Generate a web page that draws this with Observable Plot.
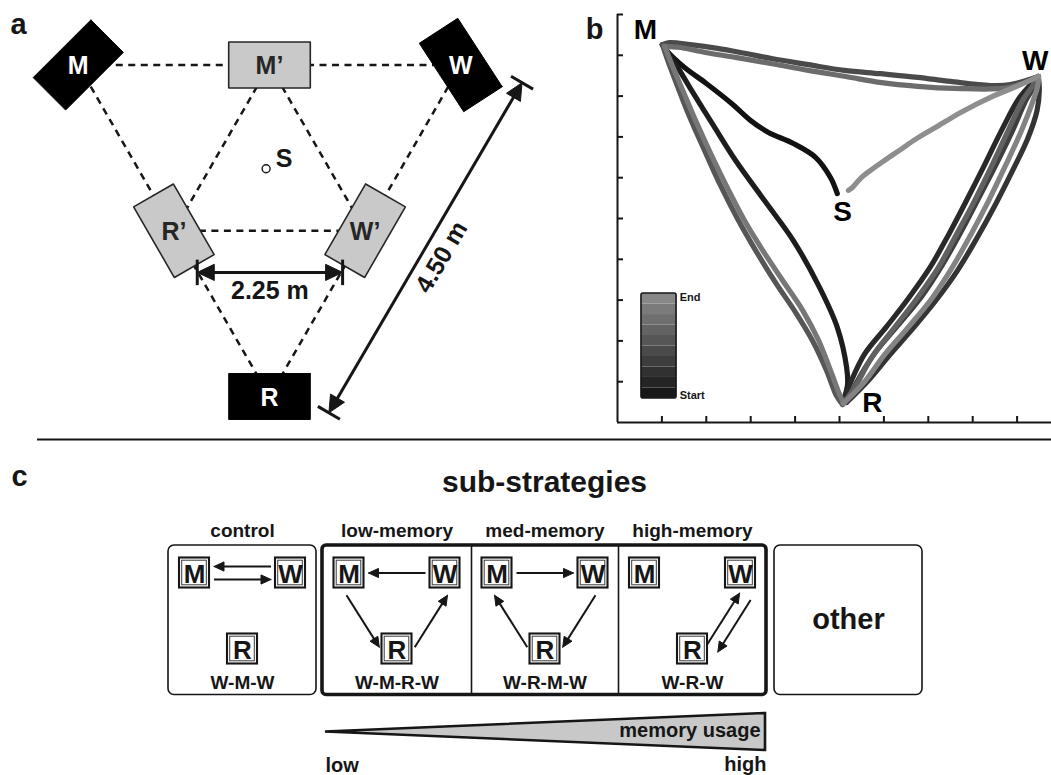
<!DOCTYPE html>
<html>
<head>
<meta charset="utf-8">
<script src="https://cdn.jsdelivr.net/npm/d3@7"></script>
<script src="https://cdn.jsdelivr.net/npm/@observablehq/plot@0.6"></script>
<style>
  html, body { margin: 0; padding: 0; background: #fff; }
  #figure { position: relative; width: 1051px; height: 775px; overflow: hidden; background: #fff; }
  #figure svg { position: absolute; max-width: none; background: transparent; }
</style>
</head>
<body>
<div id="figure"></div>
<script>
const FONT = "Liberation Sans, Arial, Helvetica, sans-serif";
const INK = "#161616";

// ================= panel a: arena layout (metres, origin at arena centre, y up) =================
const stationNames = ["M", "W", "R", "M’", "R’", "W’"];
const stationX = [-2.25, 2.25, 0, 0, -1.125, 1.125];
const stationY = [1.30, 1.30, -2.60, 1.30, -0.65, -0.65];
const stationIsFeeder = [true, true, true, false, false, false];
const arenaLinks = [["M", "M’"], ["M’", "W"], ["M", "R’"], ["M’", "R’"], ["M’", "W’"],
                    ["W", "W’"], ["R’", "W’"], ["R’", "R"], ["W’", "R"]];
const startLabel = "S";
const startXY = [-0.04, 0.08];
const dimensionLabels = ["2.25 m", "4.50 m"];
const dimensionFrom = [[-0.85, -1.14], [0.699, -2.792]];
const dimensionTo = [[0.86, -1.14], [2.971, 1.092]];

// ================= panel b: trajectory of one session (grid units) =================
const legSM1 = [[4.95,5.61],[4.80,6.00],[4.46,6.50],[3.96,6.84],[3.40,7.11],[3.00,7.40],[2.57,7.82],[2.00,8.31],[1.51,8.70],[1.10,9.12],[1.01,9.26]];
const legMR1 = [[1.01,9.26],[1.33,8.75],[1.64,8.19],[2.16,7.28],[2.66,6.42],[3.31,5.44],[3.96,4.46],[4.55,3.31],[4.95,2.33],[5.16,1.35],[5.18,0.91],[5.07,0.49]];
const legRW1 = [[5.07,0.49],[5.25,0.98],[5.56,1.67],[6.06,2.35],[6.55,3.04],[7.05,3.82],[7.46,4.61],[7.86,5.44],[8.27,6.32],[8.65,7.16],[9.04,7.94],[9.35,8.33],[9.48,8.48]];
const legWR1 = [[9.48,8.48],[9.50,8.14],[9.45,7.65],[9.24,6.96],[8.90,6.18],[8.50,5.32],[8.09,4.51],[7.66,3.73],[7.17,2.99],[6.65,2.30],[6.12,1.64],[5.65,1.03],[5.16,0.49]];
const legRW2 = [[5.16,0.49],[5.41,1.03],[5.81,1.72],[6.33,2.40],[6.85,3.09],[7.32,3.87],[7.73,4.66],[8.13,5.49],[8.54,6.35],[8.90,7.16],[9.21,7.92],[9.41,8.28],[9.48,8.48]];
const legWM1 = [[9.48,8.48],[8.85,8.28],[8.40,8.26],[7.50,8.36],[6.76,8.46],[5.92,8.55],[5.11,8.63],[4.30,8.77],[3.47,8.92],[2.77,9.07],[2.25,9.17],[1.64,9.26],[1.17,9.31],[1.01,9.26]];
const legMR2 = [[1.01,9.26],[1.15,8.82],[1.37,8.19],[1.64,7.45],[1.98,6.62],[2.32,5.81],[2.70,5.00],[3.11,4.22],[3.56,3.43],[4.01,2.70],[4.39,2.01],[4.71,1.27],[4.93,0.66],[5.07,0.44]];
const legRW3 = [[5.07,0.44],[5.38,0.93],[5.74,1.62],[6.22,2.30],[6.71,2.99],[7.21,3.77],[7.61,4.56],[8.02,5.39],[8.42,6.27],[8.78,7.11],[9.12,7.89],[9.37,8.28],[9.48,8.48]];
const legWM2 = [[9.48,8.48],[8.81,8.21],[7.59,8.19],[6.76,8.24],[5.95,8.33],[5.14,8.48],[4.30,8.63],[3.45,8.80],[2.66,8.95],[1.98,9.07],[1.42,9.19],[1.06,9.22]];
const legMR3 = [[1.06,9.22],[1.24,8.73],[1.49,8.09],[1.78,7.35],[2.12,6.54],[2.48,5.74],[2.86,4.95],[3.27,4.22],[3.72,3.48],[4.17,2.75],[4.53,2.01],[4.80,1.27],[5.00,0.69],[5.09,0.47]];
const legRW4 = [[5.09,0.47],[5.55,0.98],[6.02,1.67],[6.56,2.35],[7.08,3.04],[7.55,3.82],[7.96,4.61],[8.36,5.44],[8.74,6.30],[9.08,7.11],[9.36,7.89],[9.47,8.28],[9.48,8.48]];
const legWS1 = [[9.48,8.48],[9.08,8.28],[8.40,7.97],[7.73,7.60],[7.16,7.23],[6.71,6.94],[6.35,6.67],[6.01,6.42],[5.70,6.18],[5.47,5.98],[5.29,5.76],[5.20,5.69]];
const trajectoryLegs = [legSM1, legMR1, legRW1, legWR1, legRW2, legWM1, legMR2, legRW3, legWM2, legMR3, legRW4, legWS1];
const landmarkNames = ["M", "W", "S", "R"];
const landmarkX = [0.63, 9.41, 5.07, 5.74];
const landmarkY = [9.61, 8.87, 5.17, 0.47];
const xTicks = [1, 2, 3, 4, 5, 6, 7, 8, 9];
const yTicks = [1, 2, 3, 4, 5, 6, 7, 8, 9, 10];
const colourbarLabels = ["Start", "End"];

// ================= panel c: sub-strategies =================
const panelTitle = "sub-strategies";
const strategyNames = ["control", "low-memory", "med-memory", "high-memory"];
const strategyRoutes = ["W-M-W", "W-M-R-W", "W-R-M-W", "W-R-W"];
const otherName = "other";
const usageTitle = "memory usage";
const usageEnds = ["low", "high"];
const usageLevels = [0, 1];

// ---------------------------------------------------------------------------
const fig = document.getElementById("figure");
function place(svg, left, top) {
  svg.style.left = left + "px";
  svg.style.top = top + "px";
  fig.appendChild(svg);
}
// filled triangle pointing along (ux, uy) with its tip at (tx, ty)
function arrowHead(id, tx, ty, ux, uy, len, half) {
  const bx = tx - ux * len, by = ty - uy * len;
  return [
    {id, x: tx, y: ty},
    {id, x: bx - uy * half, y: by + ux * half},
    {id, x: bx + uy * half, y: by - ux * half},
    {id, x: tx, y: ty}
  ];
}

// ---------------- panel a ----------------
{
  const W = 560, H = 430, k = 85, ox = 269, oy = 175;       // 85 px per metre
  const boxAngle = {"M": 45, "W": -57, "R": 0, "M’": 0, "R’": -60, "W’": 60};
  const boxLen = 0.96, boxWid = 0.54;

  const stations = stationNames.map((name, i) => ({name, x: stationX[i], y: stationY[i], feeder: stationIsFeeder[i]}));
  const byName = Object.fromEntries(stations.map(d => [d.name, d]));
  const outline = s => {
    const a = boxAngle[s.name] * Math.PI / 180, ux = Math.cos(a), uy = Math.sin(a);
    return [[1, 1], [-1, 1], [-1, -1], [1, -1], [1, 1]].map(([i, j]) => ({
      name: s.name, feeder: s.feeder,
      x: s.x + i * boxLen / 2 * ux - j * boxWid / 2 * uy,
      y: s.y + i * boxLen / 2 * uy + j * boxWid / 2 * ux
    }));
  };
  const boxes = stations.flatMap(outline);
  const links = arenaLinks.map(([a, b]) => ({x1: byName[a].x, y1: byName[a].y, x2: byName[b].x, y2: byName[b].y}));

  const headLen = 0.2, headHalf = 0.095, barHalf = 0.15, labelGap = 0.22;
  const dims = dimensionLabels.map((label, i) => {
    const [x1, y1] = dimensionFrom[i], [x2, y2] = dimensionTo[i];
    const L = Math.hypot(x2 - x1, y2 - y1), ux = (x2 - x1) / L, uy = (y2 - y1) / L;
    return {label, x1, y1, x2, y2, ux, uy,
      lx: (x1 + x2) / 2 + uy * labelGap, ly: (y1 + y2) / 2 - ux * labelGap,
      rotate: -Math.atan2(uy, ux) * 180 / Math.PI};
  });
  const shafts = dims.map(d => ({x1: d.x1 + d.ux * headLen * 0.6, y1: d.y1 + d.uy * headLen * 0.6,
                                 x2: d.x2 - d.ux * headLen * 0.6, y2: d.y2 - d.uy * headLen * 0.6}));
  const heads = dims.flatMap((d, i) => [
    ...arrowHead(2 * i, d.x2, d.y2, d.ux, d.uy, headLen, headHalf),
    ...arrowHead(2 * i + 1, d.x1, d.y1, -d.ux, -d.uy, headLen, headHalf)]);
  const bars = dims.flatMap(d => [[d.x1, d.y1], [d.x2, d.y2]].map(([x, y]) => ({
    x1: x - d.uy * barHalf, y1: y + d.ux * barHalf, x2: x + d.uy * barHalf, y2: y - d.ux * barHalf})));
  const start = {label: startLabel, x: startXY[0], y: startXY[1]};

  const svg = Plot.plot({
    width: W, height: H, margin: 0,
    x: {domain: [-ox / k, (W - ox) / k], axis: null},
    y: {domain: [(oy - H) / k, oy / k], axis: null},
    style: {fontFamily: FONT, background: "transparent"},
    marks: [
      Plot.link(links, {x1: "x1", y1: "y1", x2: "x2", y2: "y2", stroke: INK, strokeWidth: 2.5, strokeDasharray: "7,5.5"}),
      Plot.line(boxes.filter(d => d.feeder), {x: "x", y: "y", z: "name", fill: "#000", stroke: "#000", strokeWidth: 1, strokeLinejoin: "miter", curve: "linear"}),
      Plot.line(boxes.filter(d => !d.feeder), {x: "x", y: "y", z: "name", fill: "#c9c9c9", stroke: "#262626", strokeWidth: 1.6, strokeLinejoin: "miter", curve: "linear"}),
      Plot.text(stations.filter(d => d.feeder), {x: "x", y: "y", text: "name", fill: "#fff", fontSize: 25, fontWeight: "bold", dy: 1}),
      Plot.text(stations.filter(d => !d.feeder), {x: "x", y: "y", text: "name", fill: "#262626", fontSize: 25, fontWeight: "bold", dy: 1}),
      Plot.dot([start], {x: "x", y: "y", r: 4, fill: "#fff", stroke: INK, strokeWidth: 1.4}),
      Plot.text([start], {x: "x", y: "y", text: "label", dx: 18, dy: -10, fontSize: 25, fontWeight: "bold", fill: INK}),
      Plot.link(shafts, {x1: "x1", y1: "y1", x2: "x2", y2: "y2", stroke: INK, strokeWidth: 3}),
      Plot.link(bars, {x1: "x1", y1: "y1", x2: "x2", y2: "y2", stroke: INK, strokeWidth: 3}),
      Plot.line(heads, {x: "x", y: "y", z: "id", fill: INK, stroke: INK, strokeWidth: 1, curve: "linear", strokeLinejoin: "miter"}),
      Plot.text(dims, {x: "lx", y: "ly", text: "label", rotate: "rotate", fontSize: 25, fontWeight: "bold", fill: INK}),
      Plot.text(["a"], {frameAnchor: "top-left", text: d => d, dx: 18, dy: 24, textAnchor: "middle", lineAnchor: "middle", fontSize: 29, fontWeight: "bold", fill: INK})
    ]
  });
  place(svg, 0, 0);
}

// ---------------- panel b ----------------
{
  const n = trajectoryLegs.length;
  const track = trajectoryLegs.flatMap((leg, i) => leg.map(([x, y]) => ({leg: i, t: i / (n - 1), x, y})));
  const landmarks = landmarkNames.map((name, i) => ({name, x: landmarkX[i], y: landmarkY[i]}));
  const bar = {x1: 0.54, x2: 1.33, y1: 0.59, y2: 3.16};
  const steps = 10;
  const bands = d3.range(steps).map(i => ({
    x1: bar.x1, x2: bar.x2,
    y1: bar.y1 + (bar.y2 - bar.y1) * i / steps,
    y2: bar.y1 + (bar.y2 - bar.y1) * (i + 1) / steps,
    t: (i + 0.5) / steps}));
  const barText = [
    {label: colourbarLabels[0], x: bar.x2 + 0.07, y: bar.y1 + 0.07},
    {label: colourbarLabels[1], x: bar.x2 + 0.07, y: bar.y2 - 0.1}];

  const svg = Plot.plot({
    width: 491, height: 430, marginLeft: 57, marginRight: 0, marginTop: 14, marginBottom: 8,
    x: {domain: [0, 434 / 44.4]},
    y: {domain: [0, 10]},
    color: {type: "linear", domain: [0, 1], range: ["#121212", "#8e8e8e"]},
    style: {fontFamily: FONT, background: "transparent"},
    marks: [
      Plot.axisX(xTicks, {anchor: "bottom", tickSize: -6, tickFormat: () => "", label: null, strokeWidth: 2, stroke: INK}),
      Plot.axisY(yTicks, {anchor: "left", tickSize: -6, tickFormat: () => "", label: null, strokeWidth: 2, stroke: INK}),
      Plot.ruleX([0], {stroke: INK, strokeWidth: 2}),
      Plot.ruleY([0], {stroke: INK, strokeWidth: 2}),
      Plot.line(track, {x: "x", y: "y", z: "leg", stroke: "t", strokeWidth: 5.2, curve: "catmull-rom", strokeLinecap: "round", strokeLinejoin: "round"}),
      Plot.rect(bands, {x1: "x1", x2: "x2", y1: "y1", y2: "y2", fill: "t"}),
      Plot.rect([bar], {x1: "x1", x2: "x2", y1: "y1", y2: "y2", fill: "none", stroke: INK, strokeWidth: 1.6, rx: 2}),
      Plot.text(barText, {x: "x", y: "y", text: "label", textAnchor: "start", fontSize: 11, fontWeight: "bold", fill: INK}),
      Plot.text(landmarks, {x: "x", y: "y", text: "name", fontSize: 28, fontWeight: "bold", fill: "#000"}),
      Plot.text(["b"], {frameAnchor: "top-left", text: d => d, dx: -23, dy: 15, textAnchor: "middle", lineAnchor: "middle", fontSize: 29, fontWeight: "bold", fill: INK})
    ]
  });
  place(svg, 560, 0);
}

// ---------------- panel c ----------------
{
  const W = 1051, H = 350;
  const colEdges = [[168, 316], [322, 471], [471, 618], [618, 766]];
  const otherEdges = [774, 922];
  const boxTop = 120, boxBottom = 269.5;
  const rowTop = 147.5, rowBottom = 223.5, spread = 48, half = 15;
  const nodeOffset = {M: [-spread, rowTop], W: [spread, rowTop], R: [0, rowBottom]};

  const cols = strategyNames.map((name, i) => ({
    name, route: strategyRoutes[i], x1: colEdges[i][0], x2: colEdges[i][1],
    cx: (colEdges[i][0] + colEdges[i][1]) / 2}));
  const nodes = cols.flatMap(c => ["M", "W", "R"].map(n => ({n, x: c.cx + nodeOffset[n][0], y: nodeOffset[n][1]})));

  // route arrows, derived from each sub-strategy's visiting order
  const shafts = [], heads = [];
  const hLen = 10, hHalf = 4.6;
  cols.forEach((c, ci) => {
    const seq = c.route.split("-");
    const edges = seq.slice(1).map((b, i) => [seq[i], b]);
    const has = (a, b) => edges.some(e => e[0] === a && e[1] === b);
    const cx = c.cx, cy = (2 * rowTop + rowBottom) / 3;
    edges.forEach(([a, b], ei) => {
      const p = [cx + nodeOffset[a][0], nodeOffset[a][1]], q = [cx + nodeOffset[b][0], nodeOffset[b][1]];
      const L = Math.hypot(q[0] - p[0], q[1] - p[1]);
      const ux = (q[0] - p[0]) / L, uy = (q[1] - p[1]) / L, nx = -uy, ny = ux;
      const level = a !== "R" && b !== "R";
      const mx = (p[0] + q[0]) / 2, my = (p[1] + q[1]) / 2;
      const side = Math.sign(nx * (mx - cx) + ny * (my - cy)) || 1;
      let off = level ? 0 : 14;
      if (has(b, a)) off += (a === "W" ? 6.5 : -6.5) + (level ? 0 : 2.5);
      const trim = node => level ? 19.5 : (node === "R" ? 11 : 17.5);
      const sx = p[0] + ux * trim(a) + nx * side * off, sy = p[1] + uy * trim(a) + ny * side * off;
      const ex = q[0] - ux * trim(b) + nx * side * off, ey = q[1] - uy * trim(b) + ny * side * off;
      shafts.push({x1: sx, y1: sy, x2: ex - ux * hLen * 0.6, y2: ey - uy * hLen * 0.6});
      heads.push(...arrowHead(`${ci}-${ei}`, ex, ey, ux, uy, hLen, hHalf));
    });
  });

  const wedgeX = [325, 765], wedgeMid = 306.5, wedgeHalf = 18.5;
  const wedge = usageLevels.map((u, i) => ({x: wedgeX[i], y1: wedgeMid - u * wedgeHalf, y2: wedgeMid + u * wedgeHalf}));

  const svg = Plot.plot({
    width: W, height: H, margin: 0,
    x: {domain: [0, W], axis: null},
    y: {domain: [0, H], reverse: true, axis: null},
    style: {fontFamily: FONT, background: "transparent"},
    marks: [
      Plot.ruleY([14], {x1: 37, x2: W, stroke: INK, strokeWidth: 2}),
      Plot.text(["c"], {x: 19, y: 51, text: d => d, fontSize: 29, fontWeight: "bold", fill: INK}),
      Plot.text([panelTitle], {x: 544, y: 57, text: d => d, fontSize: 30, fontWeight: "bold", fill: INK}),
      Plot.text(cols, {x: "cx", y: 105, text: "name", fontSize: 19, fontWeight: "bold", fill: INK}),
      Plot.rect([cols[0]], {x1: "x1", x2: "x2", y1: boxTop, y2: boxBottom, fill: "none", stroke: INK, strokeWidth: 1.6, rx: 6}),
      Plot.rect([{x1: colEdges[1][0], x2: colEdges[3][1]}], {x1: "x1", x2: "x2", y1: boxTop, y2: boxBottom, fill: "none", stroke: INK, strokeWidth: 3.6, rx: 4}),
      Plot.ruleX([colEdges[2][0], colEdges[3][0]], {y1: boxTop, y2: boxBottom, stroke: INK, strokeWidth: 1.6}),
      Plot.rect([{x1: otherEdges[0], x2: otherEdges[1]}], {x1: "x1", x2: "x2", y1: boxTop, y2: boxBottom, fill: "none", stroke: INK, strokeWidth: 1.6, rx: 6}),
      Plot.text([otherName], {x: (otherEdges[0] + otherEdges[1]) / 2, y: 194, text: d => d, fontSize: 29, fontWeight: "bold", fill: INK}),
      Plot.rect(nodes, {x1: d => d.x - half, x2: d => d.x + half, y1: d => d.y - half, y2: d => d.y + half, fill: "#fff", stroke: INK, strokeWidth: 2.1}),
      Plot.rect(nodes, {x1: d => d.x - half + 2.7, x2: d => d.x + half - 2.7, y1: d => d.y - half + 2.7, y2: d => d.y + half - 2.7, fill: "none", stroke: "#3a3a3a", strokeWidth: 1}),
      Plot.text(nodes, {x: "x", y: d => d.y + 2, text: "n", fontSize: 26, fontWeight: "bold", fill: INK}),
      Plot.link(shafts, {x1: "x1", y1: "y1", x2: "x2", y2: "y2", stroke: INK, strokeWidth: 2}),
      Plot.line(heads, {x: "x", y: "y", z: "id", fill: INK, stroke: INK, strokeWidth: 1, curve: "linear", strokeLinejoin: "miter"}),
      Plot.text(cols, {x: "cx", y: 257, text: "route", fontSize: 19, fontWeight: "bold", fill: INK}),
      Plot.area(wedge, {x1: "x", y1: "y1", y2: "y2", fill: "#c8c8c8", stroke: INK, strokeWidth: 2.6, strokeLinejoin: "miter", strokeMiterlimit: 20}),
      Plot.text([usageTitle], {x: 760, y: 305.5, text: d => d, textAnchor: "end", fontSize: 20, fontWeight: "bold", fill: INK}),
      Plot.text([usageEnds[0]], {x: 325, y: 340.5, text: d => d, textAnchor: "start", fontSize: 20, fontWeight: "bold", fill: INK}),
      Plot.text([usageEnds[1]], {x: 766, y: 339.5, text: d => d, textAnchor: "end", fontSize: 20, fontWeight: "bold", fill: INK})
    ]
  });
  place(svg, 0, 425);
}
</script>
</body>
</html>
